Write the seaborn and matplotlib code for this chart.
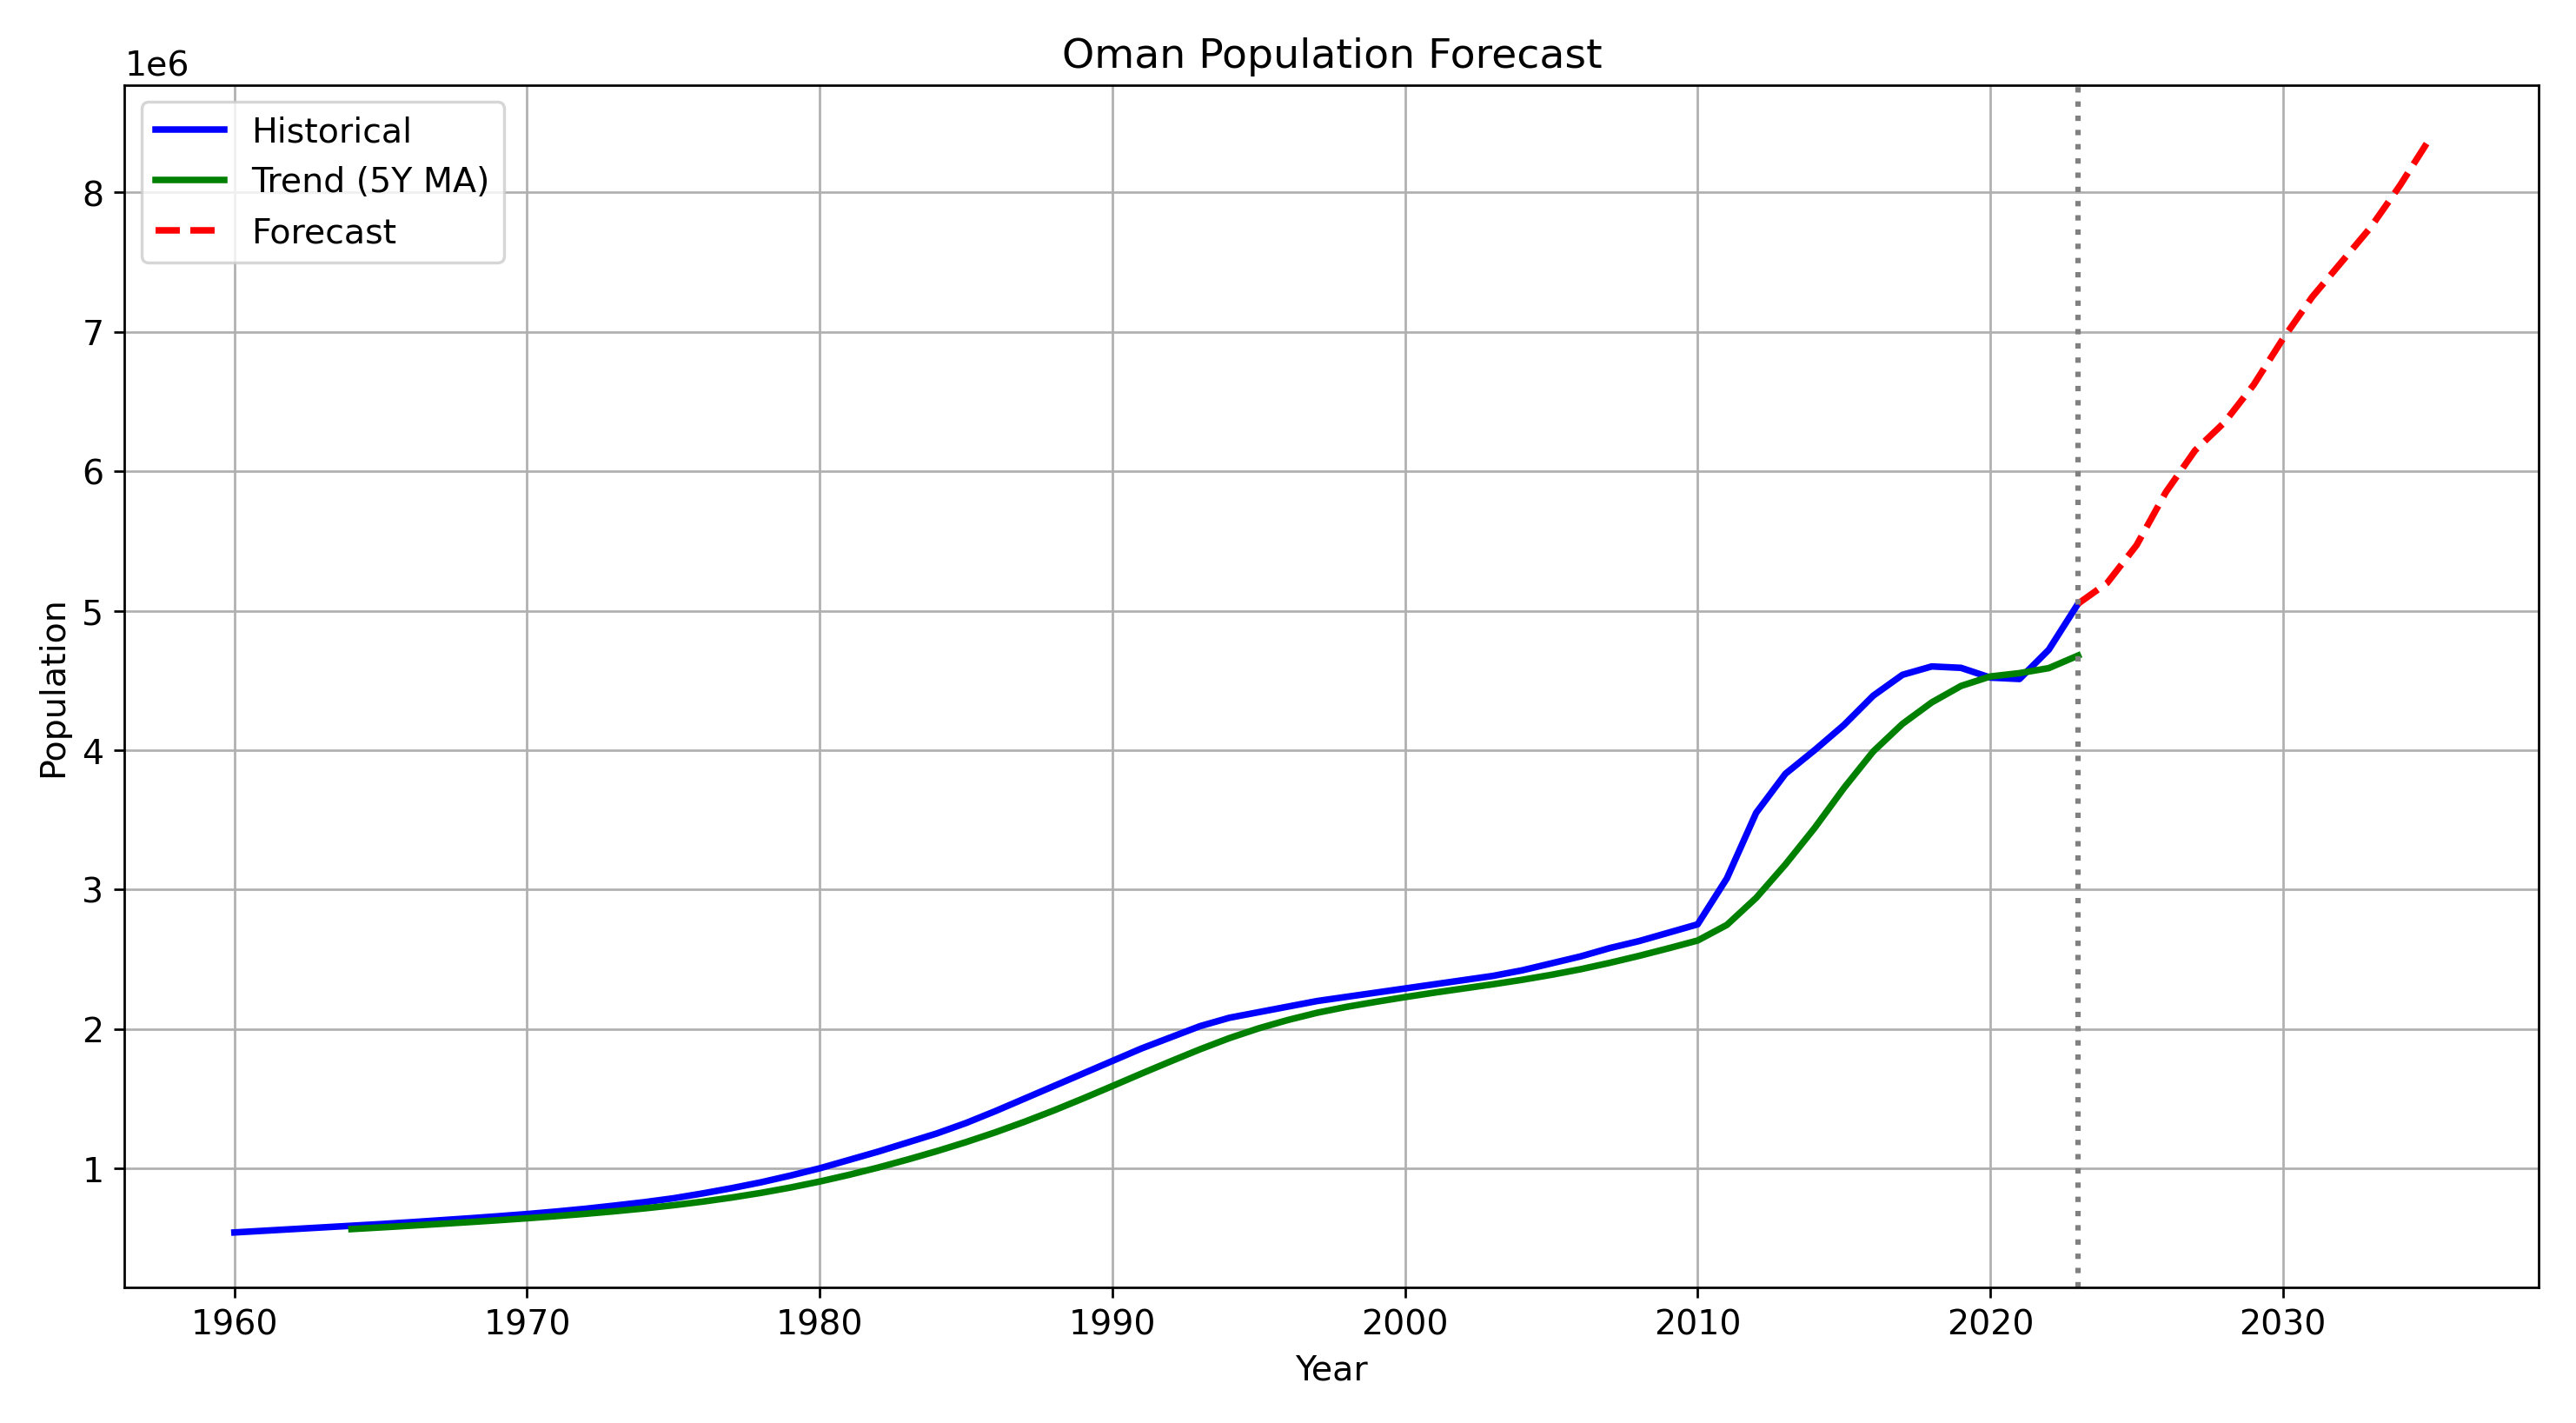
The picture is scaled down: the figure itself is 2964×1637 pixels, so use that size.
import numpy as np
import pandas as pd
import matplotlib
matplotlib.use("Agg")
import matplotlib.pyplot as plt
import seaborn as sns

years = list(range(1960, 2024))
population_m = [
    0.540, 0.552, 0.564, 0.576, 0.588, 0.600, 0.613, 0.627, 0.641, 0.656,
    0.672, 0.690, 0.710, 0.733, 0.757, 0.785, 0.820, 0.858, 0.900, 0.948,
    1.000, 1.060, 1.120, 1.185, 1.250, 1.325, 1.410, 1.500, 1.590, 1.680,
    1.770, 1.860, 1.940, 2.020, 2.080, 2.120, 2.160, 2.200, 2.230, 2.260,
    2.290, 2.320, 2.350, 2.380, 2.420, 2.470, 2.520, 2.580, 2.630, 2.690,
    2.750, 3.080, 3.550, 3.830, 4.000, 4.180, 4.390, 4.540, 4.600, 4.590,
    4.520, 4.510, 4.720, 5.050,
]
forecast_years = list(range(2023, 2036))
forecast_m = [5.05, 5.20, 5.47, 5.85, 6.15, 6.35, 6.62, 6.95, 7.25, 7.50, 7.75, 8.05, 8.38]

df = pd.DataFrame({"Year": years, "Population": np.array(population_m) * 1e6})
df["Trend"] = df["Population"].rolling(5).mean()
fc = pd.DataFrame({"Year": forecast_years, "Population": np.array(forecast_m) * 1e6})

plt.rcParams["font.size"] = 11.5
fig, ax = plt.subplots(figsize=(12, 6.63), dpi=247)
sns.lineplot(data=df, x="Year", y="Population", color="blue", linewidth=2.2, label="Historical", ax=ax)
sns.lineplot(data=df.dropna(), x="Year", y="Trend", color="green", linewidth=2.2, label="Trend (5Y MA)", ax=ax)
sns.lineplot(data=fc, x="Year", y="Population", color="red", linewidth=2.2, linestyle="--", label="Forecast", ax=ax)
ax.axvline(2023, color="gray", linestyle=":", linewidth=1.8)

ax.set_title("Oman Population Forecast")
ax.set_xlabel("Year")
ax.set_ylabel("Population")
ax.grid(True)
ax.legend(loc="upper left")
plt.tight_layout()
plt.savefig("out.png", dpi=247)
